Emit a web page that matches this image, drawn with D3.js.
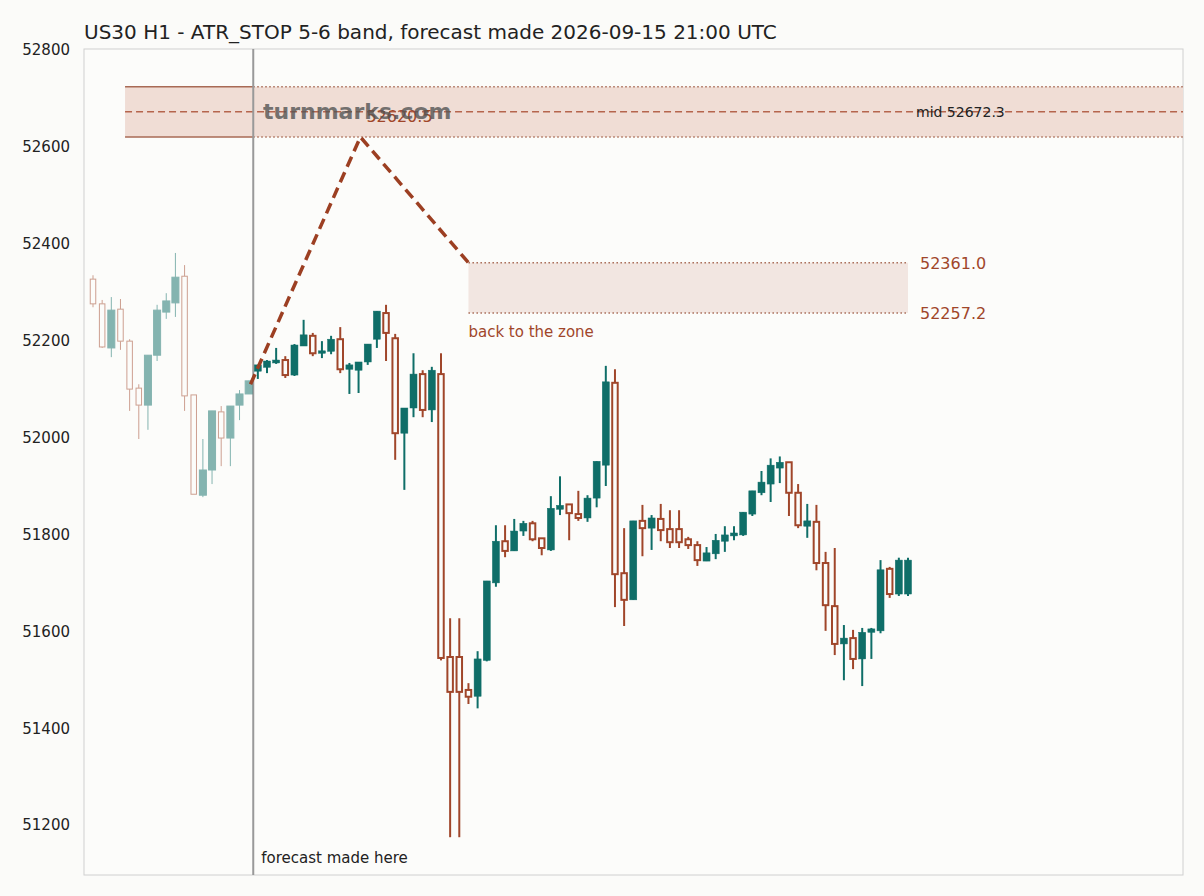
<!DOCTYPE html>
<html><head><meta charset="utf-8">
<script src="https://cdn.jsdelivr.net/npm/d3@7"></script>
<style>body{margin:0;background:#fbfbf9;font-family:"DejaVu Sans",sans-serif}</style>
</head><body><svg id="c" width="1204" height="896"></svg>
<script>
const title = "US30 H1 - ATR_STOP 5-6 band, forecast made 2026-09-15 21:00 UTC";
const yTicks = [51200,51400,51600,51800,52000,52200,52400,52600,52800];
const opens  = [52327,52276,52185,52265,52199,52102,52067,52170,52259,52278,52333,52088,51881,51933,52053,51999,52067,52090,
 52137,52145,52154,52160,52129,52189,52210,52174,52178,52203,52141,52139,52156,52203,52257,52205,52009,52061,52131,52057,52131,
 51547,51547,51479,51466,51540,51700,51786,51766,51807,51823,51792,51768,51852,51862,51842,51834,51875,51943,52113,51720,51665,
 51828,51813,51832,51811,51811,51790,51778,51745,51760,51786,51797,51799,51842,51886,51904,51937,51949,51886,51817,51826,51741,
 51652,51574,51586,51543,51598,51601,51729,51677,51677];
const closes = [52276,52187,52263,52199,52100,52067,52170,52263,52282,52331,52086,51883,51933,52055,51999,52065,52090,52117,
 52150,52158,52160,52129,52191,52212,52174,52179,52203,52141,52150,52156,52193,52261,52216,52009,52061,52131,52057,52139,51545,
 51475,51475,51465,51543,51704,51786,51766,51807,51823,51790,51772,51854,51860,51844,51834,51875,51951,52115,51718,51665,51828,
 51813,51834,51809,51784,51784,51778,51747,51762,51788,51799,51803,51846,51890,51908,51943,51949,51886,51819,51828,51741,51654,
 51574,51586,51543,51598,51605,51727,51677,51747,51747];
const highs  = [52335,52284,52290,52286,52203,52110,52170,52274,52298,52381,52356,52088,51997,52055,52065,52065,52098,52117,
 52150,52160,52185,52168,52193,52243,52216,52199,52210,52228,52154,52156,52193,52261,52274,52214,52061,52174,52139,52146,52174,
 51627,51627,51493,51559,51704,51819,51819,51832,51828,51828,51792,51879,51920,51862,51890,51881,51951,52148,52141,51813,51828,
 51861,51840,51863,51850,51850,51795,51786,51774,51801,51817,51817,51846,51890,51931,51957,51961,51949,51904,51863,51861,51764,
 51772,51613,51603,51607,51607,51747,51733,51752,51752];
const lows   = [52269,52185,52166,52181,52055,51997,52016,52158,52245,52249,52055,51883,51877,51904,51941,51941,52036,52090,
 52121,52133,52152,52123,52127,52189,52168,52164,52172,52133,52090,52092,52150,52185,52158,51954,51892,52042,52042,52032,51540,
 51175,51175,51450,51441,51538,51692,51753,51766,51797,51786,51757,51766,51840,51788,51828,51826,51856,51900,51650,51611,51665,
 51755,51768,51786,51772,51772,51770,51735,51745,51749,51764,51788,51797,51838,51881,51867,51906,51838,51813,51793,51726,51601,
 51551,51499,51522,51487,51543,51596,51669,51673,51673];
const forecastIndex = 17.5;
const pathIdx = [17.2, 29.2, 41.0];
const pathVal = [52110, 52620.5, 52361.0];
const topZone = [52620.5, 52672.3, 52724.1];
const topZoneStart = 3.5;
const lowZone = [52257.2, 52361.0];
const lowZoneIdx = [41.0, 89.0];

const svg = d3.select("#c");
const L=84,R=1183,T=49,B=875;
const x = d3.scaleLinear().domain([0, 89]).range([93, 908]);
const y = d3.scaleLinear().domain([51097, 52800]).range([B, 50]);
const up="#0f6e68", dn="#a0462a";

svg.append("rect").attr("x",L).attr("y",T).attr("width",R-L).attr("height",B-T).attr("fill","#fcfcfa").attr("stroke","#d0d0d0");
svg.append("text").attr("x",84).attr("y",39).attr("font-size",20).attr("fill","#222").text(title);
svg.append("g").attr("transform",`translate(${L},0)`)
  .call(d3.axisLeft(y).tickValues(yTicks).tickSize(0).tickPadding(14).tickFormat(d3.format("d")))
  .call(g=>g.select(".domain").remove())
  .call(g=>g.selectAll("text").attr("font-size",15).attr("fill","#222").attr("font-family","DejaVu Sans"));

// top zone
svg.append("rect").attr("x",x(topZoneStart)).attr("y",y(topZone[2])).attr("width",R-x(topZoneStart)).attr("height",y(topZone[0])-y(topZone[2])).attr("fill","#f0ddd5");
[topZone[0],topZone[2]].forEach(v=>{
  svg.append("line").attr("x1",x(topZoneStart)).attr("x2",x(forecastIndex)).attr("y1",y(v)).attr("y2",y(v)).attr("stroke","#a86a55").attr("stroke-width",1.5);
  svg.append("line").attr("x1",x(forecastIndex)).attr("x2",R).attr("y1",y(v)).attr("y2",y(v)).attr("stroke","#a86a55").attr("stroke-width",1.5).attr("stroke-dasharray","1.5,2.5");
});
svg.append("line").attr("x1",x(topZoneStart)).attr("x2",R).attr("y1",y(topZone[1])).attr("y2",y(topZone[1])).attr("stroke","#b5654d").attr("stroke-width",1.5).attr("stroke-dasharray","7,4");
svg.append("text").attr("x",916).attr("y",y(topZone[1])+5).attr("font-size",14).attr("fill","#222").text("mid "+topZone[1].toFixed(1));

// low zone
svg.append("rect").attr("x",x(lowZoneIdx[0])).attr("y",y(lowZone[1])).attr("width",x(lowZoneIdx[1])-x(lowZoneIdx[0])).attr("height",y(lowZone[0])-y(lowZone[1])).attr("fill","#f2e6e1");
lowZone.forEach(v=>{
  svg.append("line").attr("x1",x(lowZoneIdx[0])).attr("x2",x(lowZoneIdx[1])).attr("y1",y(v)).attr("y2",y(v)).attr("stroke","#a86a55").attr("stroke-width",1.5).attr("stroke-dasharray","1.5,2.5");
});
svg.append("text").attr("x",920).attr("y",y(lowZone[1])+6).attr("font-size",16).attr("fill","#a0462a").text(lowZone[1].toFixed(1));
svg.append("text").attr("x",920).attr("y",y(lowZone[0])+6).attr("font-size",16).attr("fill","#a0462a").text(lowZone[0].toFixed(1));
svg.append("text").attr("x",x(lowZoneIdx[0])).attr("y",y(lowZone[0])+24).attr("font-size",15).attr("fill","#a0462a").text("back to the zone");

// forecast line
svg.append("line").attr("x1",x(forecastIndex)).attr("x2",x(forecastIndex)).attr("y1",T).attr("y2",B).attr("stroke","#999").attr("stroke-width",2);
svg.append("text").attr("x",x(forecastIndex)+8).attr("y",863).attr("font-size",15).attr("fill","#222").text("forecast made here");

// candles
const bw=7;
opens.forEach((o,i)=>{
  const c=closes[i], isUp=c>=o, past=i<forecastIndex;
  const col=isUp?up:dn;
  const g=svg.append("g").attr("opacity",past?0.5:1);
  const cx=x(i);
  const top=y(Math.max(o,c)), bot=y(Math.min(o,c));
  if(isUp){
    g.append("line").attr("x1",cx).attr("x2",cx).attr("y1",y(highs[i])).attr("y2",y(lows[i])).attr("stroke",col).attr("stroke-width",past?1:2);
    g.append("rect").attr("x",cx-bw/2).attr("y",top).attr("width",bw).attr("height",Math.max(1.5,bot-top)).attr("fill",col).attr("stroke",col).attr("stroke-width",past?1:0.5);
  } else {
    g.append("line").attr("x1",cx).attr("x2",cx).attr("y1",y(highs[i])).attr("y2",top).attr("stroke",col).attr("stroke-width",past?1:2);
    g.append("line").attr("x1",cx).attr("x2",cx).attr("y1",bot).attr("y2",y(lows[i])).attr("stroke",col).attr("stroke-width",past?1:2);
    g.append("rect").attr("x",cx-bw/2+0.75).attr("y",top).attr("width",bw-1.5).attr("height",Math.max(1.5,bot-top)).attr("fill","#fcfcfa").attr("stroke",col).attr("stroke-width",past?1:2);
  }
});

// forecast path
svg.append("path").attr("d",d3.line().x((d,i)=>x(pathIdx[i])).y(d=>y(d))(pathVal))
  .attr("fill","none").attr("stroke","#9c3f22").attr("stroke-width",3.5).attr("stroke-dasharray","11,6");
svg.append("text").attr("x",x(pathIdx[1])+6).attr("y",y(pathVal[1])-15).attr("font-size",16).attr("fill","#a0462a").text(pathVal[1].toFixed(1));
svg.append("text").attr("x",263).attr("y",119).attr("font-size",22).attr("font-weight","bold").attr("fill","#555").attr("opacity",0.8).text("turnmarks.com");
</script></body></html>
